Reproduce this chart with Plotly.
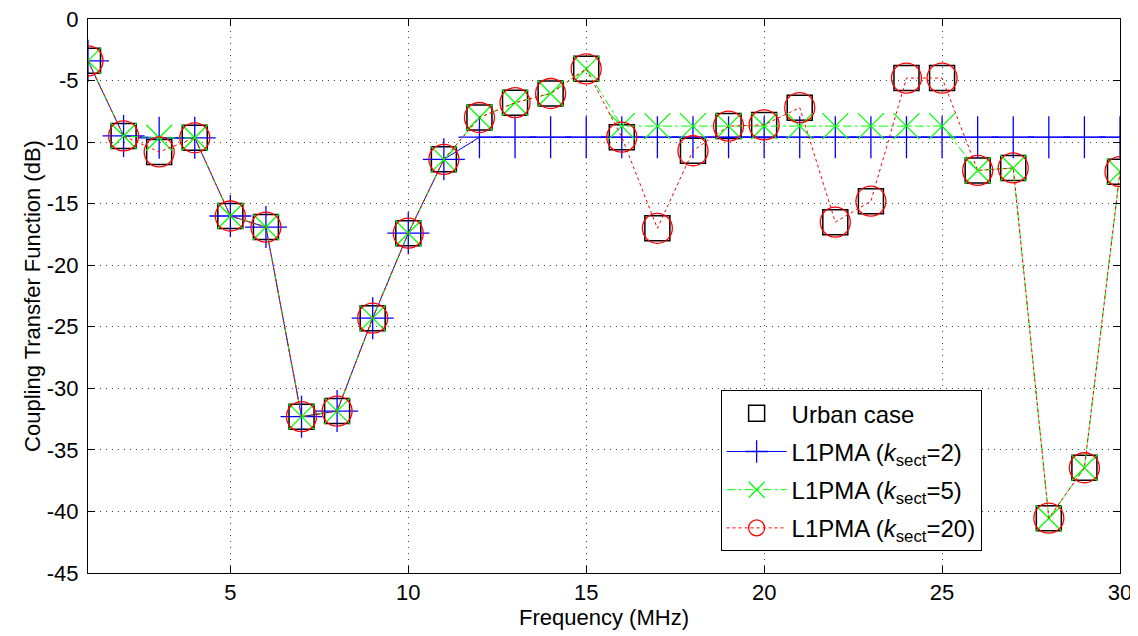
import plotly.graph_objects as go

freq = list(range(1, 31))
urban = [-3.4, -9.5, -10.8, -9.65, -16.0, -16.9, -32.3, -31.85, -24.3, -17.4,
         -11.4, -8.0, -6.8, -6.05, -4.05, -9.6, -17.0, -10.7, -8.7, -8.6,
         -7.2, -16.5, -14.8, -4.8, -4.8, -12.3, -12.1, -40.55, -36.45, -12.4]
k2 = [-3.4, -9.5, -9.65, -9.65, -16.0, -16.9, -32.3, -31.85, -24.3, -17.4,
      -11.4, -9.6, -9.6, -9.6, -9.6, -9.6, -9.6, -9.6, -9.6, -9.6,
      -9.6, -9.6, -9.6, -9.6, -9.6, -9.6, -9.6, -9.6, -9.6, -9.6]
k5 = [-3.4, -9.5, -9.65, -9.65, -16.0, -16.9, -32.3, -31.85, -24.3, -17.4,
      -11.4, -8.0, -6.8, -6.05, -4.05, -8.7, -8.7, -8.7, -8.7, -8.7,
      -8.7, -8.7, -8.7, -8.7, -8.7, -12.3, -12.1, -40.55, -36.45, -12.4]
k20 = list(urban)

x_ticks = [5, 10, 15, 20, 25, 30]
y_ticks = [0, -5, -10, -15, -20, -25, -30, -35, -40, -45]

FONT = "Liberation Sans, Arial, sans-serif"

fig = go.Figure()
fig.add_trace(go.Scatter(
    x=freq, y=urban, mode="markers", name="Urban case", legendgroup="g1",
    marker=dict(symbol="square-open", size=25, color="black", line=dict(width=1.5, color="black"))))
fig.add_trace(go.Scatter(
    x=freq, y=k2, mode="lines+markers", name="L1PMA (<i>k</i><sub>sect</sub>=2)", legendgroup="g2",
    line=dict(color="blue", width=1),
    marker=dict(symbol="cross-thin-open", size=30, line=dict(width=1.3, color="blue"))))
fig.add_trace(go.Scatter(
    x=freq, y=k5, mode="lines+markers", name="L1PMA (<i>k</i><sub>sect</sub>=5)", legendgroup="g3",
    line=dict(color="#00ff00", width=1, dash="dashdot"),
    marker=dict(symbol="x-thin-open", size=26, line=dict(width=1.3, color="#00ff00"))))
fig.add_trace(go.Scatter(
    x=freq, y=k20, mode="lines+markers", name="L1PMA (<i>k</i><sub>sect</sub>=20)", legendgroup="g4",
    line=dict(color="red", width=1, dash="dot"),
    marker=dict(symbol="circle-open", size=30, color="red", line=dict(width=1.3, color="red"))))

axis_common = dict(
    showline=True, linecolor="black", linewidth=1, mirror="allticks",
    ticks="inside", ticklen=7, tickcolor="black", tickwidth=1,
    showgrid=True, gridcolor="#444444", gridwidth=1, griddash="1px,5px",
    zeroline=False, automargin=False, ticklabeloverflow="allow",
    tickfont=dict(family=FONT, size=22, color="black"),
)

fig.update_xaxes(range=[1, 30], tickvals=x_ticks, ticktext=[str(v) for v in x_ticks],
                 ticklabelstandoff=0,
                 title=dict(text="Frequency (MHz)", font=dict(family=FONT, size=22, color="black"), standoff=4),
                 **axis_common)
fig.update_yaxes(range=[-45, 0], tickvals=y_ticks, ticktext=[str(v) for v in y_ticks],
                 ticklabelstandoff=4,
                 title=dict(text="Coupling Transfer Function (dB)", font=dict(family=FONT, size=22, color="black"), standoff=0),
                 **axis_common)

# page body has an 8px default margin, so the figure is drawn 8px in from the top-left
fig.update_layout(
    width=1130, height=628,
    margin=dict(l=80, r=18, t=11, b=63),
    paper_bgcolor="white", plot_bgcolor="white",
    font=dict(family=FONT, size=22, color="black"),
    legend=dict(x=0.613, y=0.330, xanchor="left", yanchor="top",
                bgcolor="white", bordercolor="black", borderwidth=1,
                font=dict(family=FONT, size=24, color="black"),
                itemwidth=60, tracegroupgap=4),
    showlegend=True,
)

fig.write_html("out.html")
